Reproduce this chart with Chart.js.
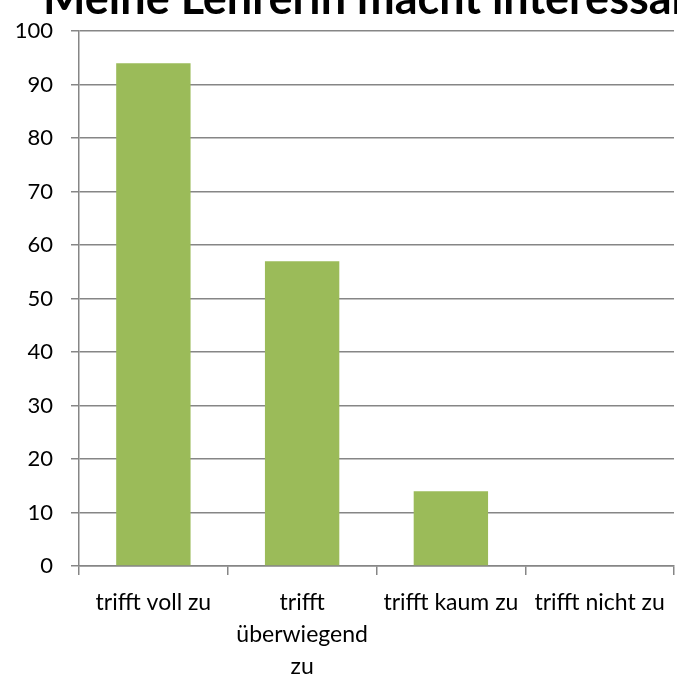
<!DOCTYPE html>
<html>
<head>
<meta charset="utf-8">
<script src="https://cdn.jsdelivr.net/npm/chart.js@4"></script>
<style>
  html, body { margin: 0; padding: 0; background: #fff; }
  #wrap { width: 677px; height: 680px; }
</style>
</head>
<body>
<div id="wrap"><canvas id="chart" width="677" height="680"></canvas></div>
<script>
// chart data
const titleText = 'Meine Lehrerin macht interessanten Unterricht';
const categories = [
    'trifft voll zu',
    ['trifft', 'überwiegend', 'zu'],
    'trifft kaum zu',
    'trifft nicht zu'
];
const values = [94, 57, 14, 0];
const yTicks = [0, 10, 20, 30, 40, 50, 60, 70, 80, 90, 100];

const FONT = 'Lato, "Open Sans", sans-serif';
const GRID = '#868686';

// title is drawn by hand so it can sit clipped at the top like the original
const titlePlugin = {
    id: 'clippedTitle',
    afterDraw(chart) {
        const ctx = chart.ctx;
        ctx.save();
        ctx.font = 'bold 45px ' + FONT;
        ctx.fillStyle = '#000';
        ctx.textBaseline = 'alphabetic';
        ctx.textAlign = 'left';
        ctx.fillText(titleText, 43, 14);
        ctx.restore();
    }
};

new Chart(document.getElementById('chart'), {
    type: 'bar',
    data: {
        labels: categories,
        datasets: [{
            data: values,
            backgroundColor: '#9BBB59',
            barPercentage: 1,
            categoryPercentage: 0.5
        }]
    },
    options: {
        responsive: false,
        animation: false,
        layout: { padding: { top: 18, right: 3, left: 0, bottom: 0 } },
        plugins: {
            legend: { display: false },
            tooltip: { enabled: false }
        },
        scales: {
            x: {
                grid: {
                    offset: true,
                    drawOnChartArea: false,
                    color: GRID,
                    lineWidth: 1.5,
                    tickLength: 9
                },
                border: { color: GRID, width: 1.5 },
                ticks: {
                    color: '#000',
                    font: { family: FONT, size: 23, lineHeight: 1.4 },
                    maxRotation: 0,
                    autoSkip: false,
                    padding: 11
                },
                afterFit(scale) { scale.height = 114; }
            },
            y: {
                min: 0,
                max: 100,
                afterBuildTicks(scale) { scale.ticks = yTicks.map(v => ({ value: v })); },
                grid: { color: GRID, lineWidth: 1.5, tickLength: 8 },
                border: { color: GRID, width: 1.5 },
                ticks: {
                    color: '#000',
                    font: { family: FONT, size: 22 },
                    padding: 18
                },
                afterFit(scale) { scale.width = 79; }
            }
        }
    },
    plugins: [titlePlugin]
});
</script>
</body>
</html>
